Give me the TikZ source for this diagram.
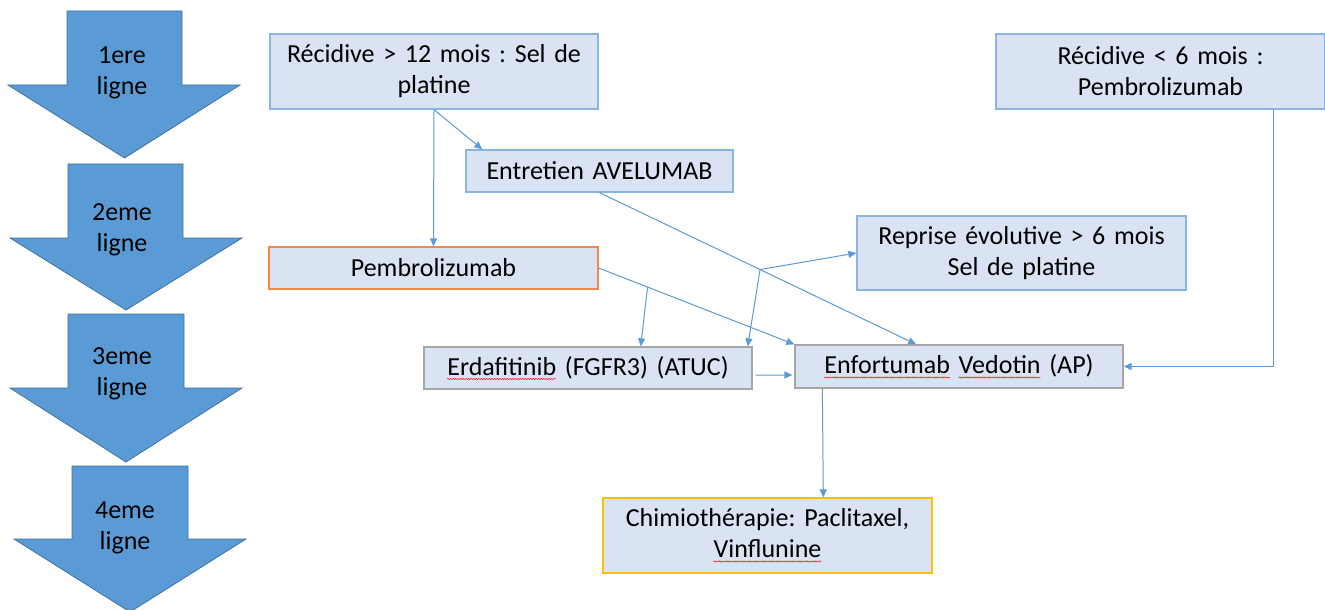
\documentclass[tikz,border=0pt]{standalone}
\usepackage{fontspec}
\setmainfont{Carlito}
\frenchspacing
\usetikzlibrary{arrows.meta,calc,decorations.pathmorphing}
\definecolor{boxfill}{HTML}{DAE3F3}
\definecolor{boxblue}{HTML}{8AB4E2}
\definecolor{boxgrey}{HTML}{A6A6A6}
\definecolor{boxorange}{HTML}{F08A4B}
\definecolor{boxgold}{HTML}{FFC000}
\definecolor{linkblue}{HTML}{5B9BD5}
\definecolor{bigfill}{HTML}{5B9BD5}
\definecolor{bigline}{HTML}{41719C}
\newsavebox\wavebox
\newcommand\redwave[1]{\sbox\wavebox{#1}\usebox\wavebox\llap{\tikz[baseline=0pt]{\draw[red,line width=0.5pt,decorate,decoration={snake,amplitude=0.6pt,segment length=2.6pt}] (0pt,-3.8pt) -- (\wd\wavebox,-3.8pt);}}}
\tikzset{
  txt/.style={font=\fontsize{26bp}{31bp}\selectfont\frenchspacing, text=black},
  basebox/.style={txt, fill=boxfill, line width=1.3bp, inner sep=0pt, align=center},
  bluebox/.style={basebox, draw=boxblue},
  greybox/.style={basebox, draw=boxgrey},
  orangebox/.style={basebox, draw=boxorange},
  goldbox/.style={basebox, draw=boxgold},
  link/.style={draw=linkblue, line width=1bp, -{Triangle[length=8bp,width=7bp]}},
  bigarrow/.style={fill=bigfill, draw=bigline, line width=0.8bp},
  arrowtext/.style={txt, align=center, inner sep=0pt}
}
\begin{document}
\begin{tikzpicture}[x=1bp,y=-1bp]
\useasboundingbox (0,0) rectangle (1325,610);
\clip (0,0) rectangle (1325,610);
% block arrows
\path[bigarrow] (67,11) -- (182,11) -- (182,85) -- (240,85) -- (124.5,158) -- (8,85) -- (67,85) -- cycle;
\path[bigarrow] (68,164) -- (183,164) -- (183,238) -- (242,238) -- (126,310) -- (10,238) -- (68,238) -- cycle;
\path[bigarrow] (68,314) -- (184,314) -- (184,388) -- (242,388) -- (126,462) -- (10,388) -- (68,388) -- cycle;
\path[bigarrow] (72,466) -- (188,466) -- (188,539) -- (246,539) -- (130,612) -- (14,539) -- (72,539) -- cycle;
\node[arrowtext] (l1) at (122,73) {1ere\\ligne};
\node[arrowtext] (l2) at (122,230) {2eme\\ligne};
\node[arrowtext] (l3) at (122,374) {3eme\\ligne};
\node[arrowtext] (l4) at (125,527.5) {4eme\\ligne};
% boxes
\node[bluebox, minimum width=328bp, minimum height=75bp, text width=320bp] (rec12) at (434,71.5) {Récidive > 12 mois : Sel de\\platine};
\node[bluebox, minimum width=267bp, minimum height=42bp, text width=260bp] (ent) at (599.5,171) {Entretien AVELUMAB};
\node[orangebox, minimum width=329bp, minimum height=42bp, text width=320bp] (pembro) at (433.5,268) {Pembrolizumab};
\node[bluebox, minimum width=329bp, minimum height=74bp, text width=320bp] (rep) at (1021.5,253) {Reprise évolutive > 6 mois\\Sel de platine};
\node[bluebox, minimum width=329bp, minimum height=75bp, text width=320bp] (rec6) at (1160.5,71.5) {Récidive < 6 mois :\\Pembrolizumab};
\node[greybox, minimum width=328bp, minimum height=42bp, text width=320bp] (erd) at (588,368) {\redwave{Erdafitinib} (FGFR3) (ATUC)};
\node[greybox, minimum width=328bp, minimum height=43bp, text width=320bp] (enf) at (959,366.5) {\redwave{Enfortumab} \redwave{Vedotin} (AP)};
\node[goldbox, minimum width=329bp, minimum height=75bp, text width=320bp] (chimio) at (767.5,535.5) {Chimiothérapie: Paclitaxel,\\\redwave{Vinflunine}};
% connectors
\draw[link] (rec12.south) -- (pembro.north);
\draw[link] (rec12.south) -- ($(ent.north west)!0.063!(ent.north east)$);
\draw[link] (ent.south) -- coordinate[pos=0.507] (j2) ($(enf.north west)!0.37!(enf.north east)$);
\draw[link] (pembro.east) -- coordinate[pos=0.25] (j1) (enf.north west);
\draw[link] (j1) -- ($(erd.north west)!0.66!(erd.north east)$);
\draw[link] (j2) -- (rep.west);
\draw[link] (j2) -- ($(erd.north west)!0.985!(erd.north east)$);
\draw[link] ($(erd.east)+(3,7)$) -- ($(enf.west)+(-2,8.5)$);
\draw[link] ($(enf.south west)!0.085!(enf.south east)$) -- ($(chimio.north west)!0.669!(chimio.north east)$);
\draw[link] ($(rec6.south west)!0.842!(rec6.south east)$) |- (enf.east);
\end{tikzpicture}
\end{document}
